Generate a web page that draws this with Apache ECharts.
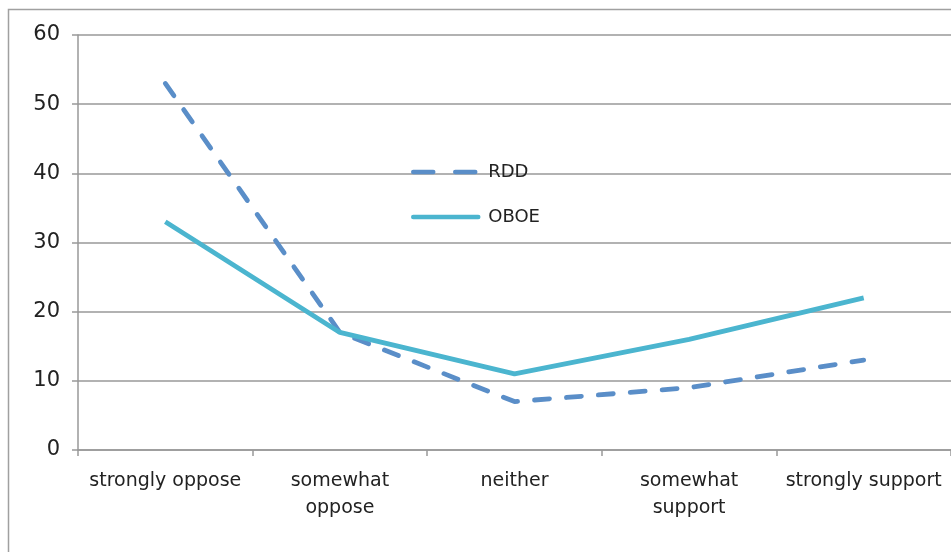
<!DOCTYPE html>
<html><head><meta charset="utf-8">
<script src="https://cdn.jsdelivr.net/npm/echarts@6/dist/echarts.min.js"></script>
<style>html,body{margin:0;padding:0;background:#fff}#c{width:951px;height:552px}</style>
</head><body><div id="c"></div>
<script>
var categories = ['strongly oppose', 'somewhat\noppose', 'neither', 'somewhat\nsupport', 'strongly support'];
var rdd = [53, 17, 7, 9, 13];
var oboe = [33, 17, 11, 16, 22];
var yTicks = {min: 0, max: 60, interval: 10};

var chart = echarts.init(document.getElementById('c'));
var font = '"DejaVu Sans", sans-serif';
chart.setOption({
  animation: false,
  graphic: [{type: 'rect', shape: {x: 8.5, y: 9.5, width: 1000, height: 1000}, style: {fill: 'none', stroke: '#a0a0a0', lineWidth: 1.5}}],
  grid: {left: 78, top: 35, right: -2, bottom: 102},
  legend: {
    orient: 'vertical', left: 406, top: 158, itemWidth: 65, itemHeight: 14, itemGap: 27,
    itemStyle: {opacity: 0},
    textStyle: {fontFamily: font, fontSize: 18, color: '#222', padding: [0, 0, 0, 5]},
    data: [
      {name: 'RDD', lineStyle: {width: 4.5, type: [20, 22], cap: 'round', color: '#5a8ec8'}},
      {name: 'OBOE', lineStyle: {width: 4.5, type: 'solid', cap: 'round', color: '#4bb5cf'}}
    ]
  },
  xAxis: {
    type: 'category', data: categories, boundaryGap: true,
    axisLine: {lineStyle: {color: '#999', width: 1.5}},
    axisTick: {show: true, length: 6, lineStyle: {color: '#999', width: 1.5}},
    axisLabel: {fontFamily: font, fontSize: 19, color: '#222', margin: 18, lineHeight: 27, interval: 0}
  },
  yAxis: {
    type: 'value', min: yTicks.min, max: yTicks.max, interval: yTicks.interval,
    axisLine: {show: true, lineStyle: {color: '#999', width: 1.5}},
    axisTick: {show: true, length: 6, lineStyle: {color: '#999', width: 1.5}},
    splitLine: {lineStyle: {color: '#999', width: 1.5}},
    axisLabel: {fontFamily: font, fontSize: 21, color: '#222', margin: 18}
  },
  series: [
    {name: 'RDD', type: 'line', data: rdd, symbol: 'none', color: '#5a8ec8',
     lineStyle: {width: 4.8, type: [15, 17], cap: 'round', color: '#5a8ec8'}},
    {name: 'OBOE', type: 'line', data: oboe, symbol: 'none', color: '#4bb5cf',
     lineStyle: {width: 4.8, color: '#4bb5cf'}}
  ]
});
</script></body></html>
